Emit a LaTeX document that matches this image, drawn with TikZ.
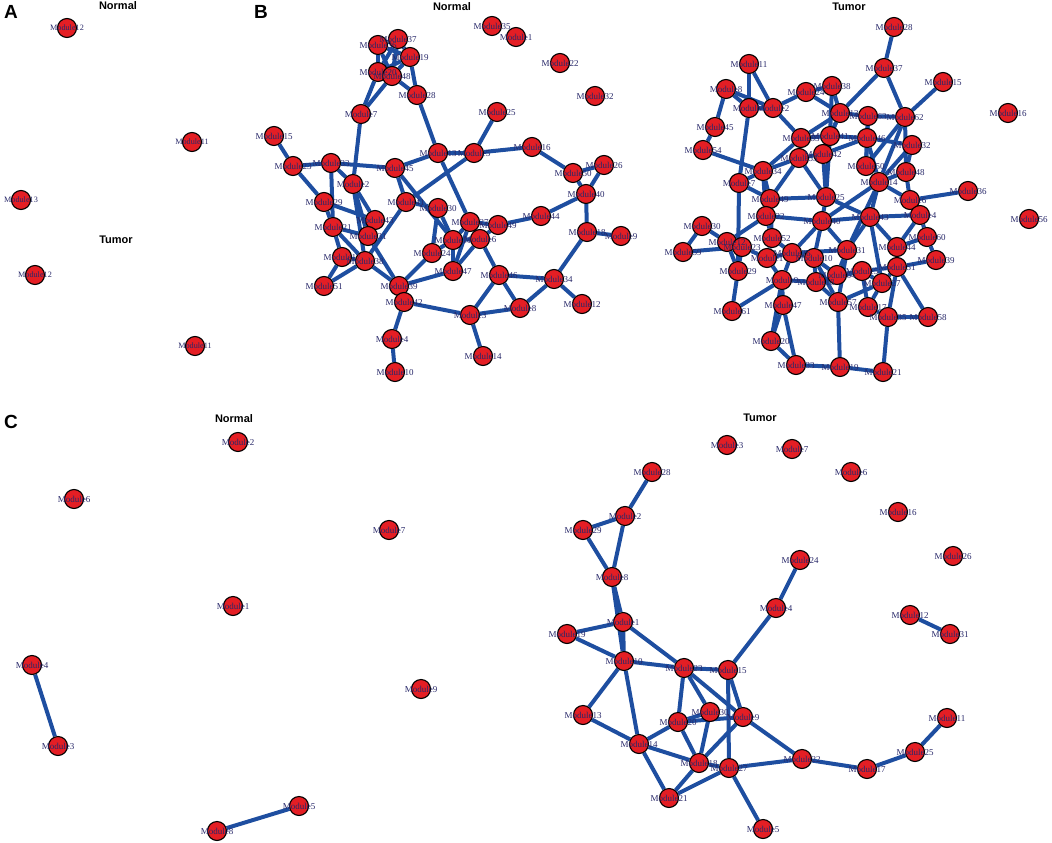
\documentclass[tikz,border=0pt]{standalone}
\usepackage{fontspec}
\setmainfont{Liberation Serif}
\newfontfamily\titlefont{Liberation Sans}
\pgfdeclarelayer{bg}
\pgfsetlayers{bg,main}
\definecolor{nodered}{RGB}{228,30,36}
\definecolor{edgeblue}{RGB}{30,78,160}
\definecolor{labcol}{RGB}{40,40,105}
\tikzset{
 vtx/.style={circle,draw=black,fill=nodered,line width=1.1pt,minimum size=19pt,inner sep=0pt},
 lab/.style={text=labcol,font=\fontsize{9}{10}\selectfont,inner sep=0pt},
 labA/.style={text=labcol,font=\fontsize{8.2}{9}\selectfont,inner sep=0pt},
 edge/.style={draw=edgeblue,line width=4pt},
 ttl/.style={font=\titlefont\bfseries\fontsize{11}{12}\selectfont,inner sep=0pt},
 panel/.style={font=\titlefont\bfseries\fontsize{19}{20}\selectfont,inner sep=0pt}
}
\begin{document}
\begin{tikzpicture}[x=1pt,y=-1pt]
\useasboundingbox (0,0) rectangle (1052,843);
% ---------- titles ----------
\node[panel] (pA) at (11,12) {A};
\node[panel] (pB) at (261,12) {B};
\node[panel] (pC) at (11,422) {C};
\node[ttl] (tAn) at (118,6) {Normal};
\node[ttl] (tAt) at (116,240) {Tumor};
\node[ttl] (tBn) at (452,7) {Normal};
\node[ttl] (tBt) at (849,7) {Tumor};
\node[ttl] (tCn) at (234,419) {Normal};
\node[ttl] (tCt) at (760,418) {Tumor};
% ---------- node lists ----------
\def\ANlist{12/67/28, 11/192/142, 13/21/200}
\def\ATlist{12/35/275, 11/195/346}
\def\BNlist{36/378/45, 37/398/39, 19/410/57, 20/378/72, 48/392/76, 28/417/95, 7/361/114,
 15/274/136, 23/293/166, 33/331/163, 45/395/168, 13/438/153, 5/474/153, 25/497/112,
 16/532/147, 50/573/173, 26/604/165, 40/586/194, 44/541/216, 18/587/232, 9/621/236,
 2/353/184, 29/324/202, 41/406/202, 30/438/208, 21/333/227, 43/375/220, 31/368/236,
 17/342/257, 38/365/261, 51/324/286, 24/432/253, 39/399/286, 42/404/302, 4/392/339,
 10/395/372, 27/470/222, 49/498/225, 11/453/240, 6/480/239, 47/453/271, 46/499/275,
 34/554/279, 12/582/304, 8/520/308, 3/470/315, 14/483/356, 35/492/26, 1/516/37,
 22/560/63, 32/595/96}
\def\BTlist{11/749/64, 8/726/89, 3/749/108, 2/773/108, 24/806/92, 38/832/86, 13/840/113,
 45/715/127, 54/703/150, 55/801/138, 41/830/136, 53/799/158, 42/823/154, 34/763/171,
 7/739/183, 49/770/199, 25/826/197, 22/766/216, 28/894/27, 37/884/68, 15/943/82,
 16/1008/113, 63/868/116, 62/905/117, 46/867/138, 32/912/145, 50/866/166, 48/906/172,
 14/879/182, 6/910/200, 36/968/191, 4/920/215, 43/870/217, 56/1029/219, 60/927/237,
 44/897/247, 31/847/250, 39/936/260, 51/897/267, 5/862/271, 27/882/283, 17/868/307,
 35/888/317, 58/928/317, 21/883/372, 40/822/221, 30/702/226, 59/683/252, 12/727/242,
 23/742/247, 52/772/238, 1/767/258, 26/792/253, 10/814/258, 9/782/280, 18/816/282,
 64/837/275, 57/838/302, 29/738/271, 61/732/311, 47/783/305, 20/771/341, 33/796/365,
 19/840/367}
\def\CNlist{2/238/442, 6/74/499, 7/389/530, 1/233/606, 4/32/665, 9/421/689, 3/58/746,
 5/299/806, 8/217/831}
\def\CTlist{3/727/445, 7/792/449, 6/851/472, 16/898/512, 26/953/556, 12/910/615,
 31/950/634, 28/652/472, 2/625/516, 29/583/530, 8/612/577, 24/800/560, 4/776/608,
 1/623/622, 19/567/634, 10/624/661, 23/684/668, 15/728/670, 13/583/715, 20/678/722,
 30/710/712, 9/743/717, 14/639/744, 18/699/763, 27/729/768, 22/802/759, 17/867/769,
 25/915/752, 11/947/718, 21/669/798, 5/763/829}
% ---------- circles ----------
\foreach \n/\x/\y in \ANlist {\node[vtx] (An\n) at (\x,\y) {};}
\foreach \n/\x/\y in \ATlist {\node[vtx] (At\n) at (\x,\y) {};}
\foreach \n/\x/\y in \BNlist {\node[vtx] (Bn\n) at (\x,\y) {};}
\foreach \n/\x/\y in \BTlist {\node[vtx] (Bt\n) at (\x,\y) {};}
\foreach \n/\x/\y in \CNlist {\node[vtx] (Cn\n) at (\x,\y) {};}
\foreach \n/\x/\y in \CTlist {\node[vtx] (Ct\n) at (\x,\y) {};}
% ---------- labels ----------
\foreach \n/\x/\y in \ANlist {\node[labA] (Anl\n) at (\x,\y) {Module\n};}
\foreach \n/\x/\y in \ATlist {\node[labA] (Atl\n) at (\x,\y) {Module\n};}
\foreach \n/\x/\y in \BNlist {\node[lab] (Bnl\n) at (\x,\y) {Module\n};}
\foreach \n/\x/\y in \BTlist {\node[lab] (Btl\n) at (\x,\y) {Module\n};}
\foreach \n/\x/\y in \CNlist {\node[lab] (Cnl\n) at (\x,\y) {Module\n};}
\foreach \n/\x/\y in \CTlist {\node[lab] (Ctl\n) at (\x,\y) {Module\n};}
% ---------- edges ----------
\begin{pgfonlayer}{bg}
\foreach \a/\b in {36/37, 36/19, 36/20, 36/48, 37/19, 37/20, 37/48, 19/48, 19/20, 20/48,
 48/28, 19/28, 7/20, 7/48, 28/13, 7/2, 15/23, 23/33, 33/45, 45/13, 45/41, 45/11, 13/5,
 13/27, 5/41, 5/25, 5/16, 16/50, 50/26, 50/40, 26/40, 40/44, 40/18, 44/49, 18/9, 18/34,
 34/12, 34/46, 34/8, 46/8, 46/3, 8/3, 3/14, 46/6, 42/3, 39/42, 42/4, 4/10, 39/47, 24/11,
 24/39, 24/30, 23/29, 33/21, 33/2, 2/43, 2/31, 2/38, 29/21, 21/31, 21/17, 21/38, 17/38,
 17/51, 38/51, 38/39, 31/39, 43/31, 38/41, 41/30, 30/11, 27/6, 27/11, 11/6, 11/47, 6/47,
 27/47, 49/6, 27/49, 29/43}
 {\draw[edge] (Bn\a) -- (Bn\b);}
\foreach \a/\b in {28/37, 37/62, 37/13, 15/62, 62/63, 62/48, 62/14, 62/50, 63/46, 63/50,
 63/13, 46/32, 46/50, 46/41, 46/14, 32/48, 32/14, 48/6, 48/14, 6/36, 6/4, 6/14, 4/43,
 4/60, 4/44, 60/39, 60/44, 39/51, 44/51, 44/43, 43/14, 43/31, 43/27, 51/5, 51/27, 51/58,
 51/35, 5/27, 5/17, 27/17, 17/35, 35/58, 35/21, 21/19, 19/57, 19/33, 33/20, 33/47, 20/47,
 20/9, 47/9, 11/3, 11/2, 8/3, 8/2, 8/45, 45/54, 54/34, 3/7, 3/2, 2/24, 2/55, 24/38, 24/13,
 38/13, 38/41, 13/55, 13/41, 13/42, 55/41, 55/53, 55/34, 41/42, 41/25, 53/42, 53/34,
 53/49, 53/25, 42/25, 42/46, 34/7, 34/49, 34/22, 7/49, 7/29, 49/25, 49/22, 49/52, 25/40,
 22/40, 40/43, 22/12, 22/52, 30/59, 30/12, 59/23, 12/23, 12/29, 23/29, 23/1, 29/61, 61/9,
 52/1, 52/26, 1/26, 1/9, 26/10, 26/40, 10/18, 10/57, 18/57, 9/18, 9/26, 40/31, 40/10,
 31/57, 10/64, 64/5, 64/31, 31/14, 40/14, 25/43, 18/5, 57/27, 26/31}
 {\draw[edge] (Bt\a) -- (Bt\b);}
\foreach \a/\b in {4/3, 8/5}
 {\draw[edge] (Cn\a) -- (Cn\b);}
\foreach \a/\b in {28/2, 2/29, 29/8, 2/8, 8/1, 8/10, 1/19, 1/10, 19/10, 1/23, 10/23,
 23/15, 15/4, 4/24, 10/13, 10/14, 13/14, 23/20, 23/30, 23/9, 15/9, 15/27, 20/30, 20/9,
 14/20, 20/18, 30/18, 14/18, 14/21, 18/21, 21/27, 9/18, 9/22, 27/22, 27/5, 22/17, 17/25,
 25/11, 12/31, 18/27}
 {\draw[edge] (Ct\a) -- (Ct\b);}
\end{pgfonlayer}
\end{tikzpicture}
\end{document}
